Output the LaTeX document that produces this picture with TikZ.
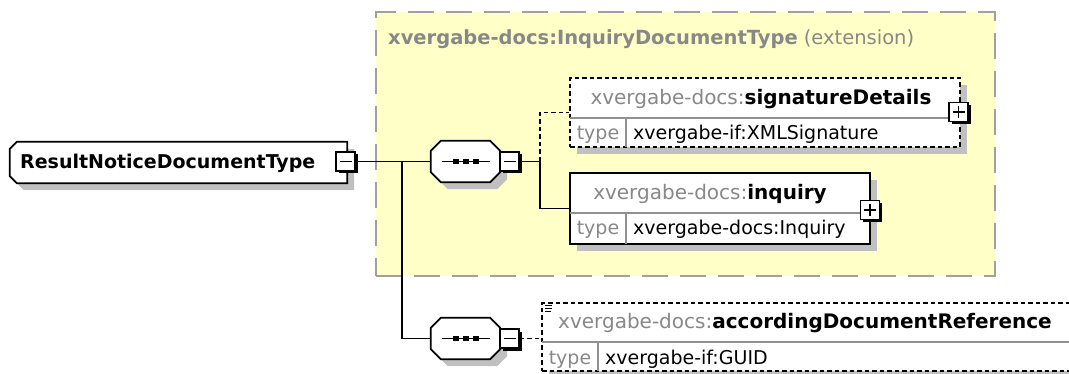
\documentclass[tikz,border=0pt]{standalone}
\usepackage{fontspec}
\setmainfont{DejaVu Sans}
\usetikzlibrary{shadows}

\definecolor{extfill}{HTML}{FFFFC8}
\definecolor{extline}{HTML}{A0A0A0}
\definecolor{shade}{HTML}{C0C0C0}
\definecolor{nsgray}{HTML}{888888}
\definecolor{rulegray}{HTML}{909090}

\newcommand\elname[2]{{\fontsize{20}{24}\selectfont\textcolor{nsgray}{#1}\textbf{#2}}}
% outline with chamfered corners round a node: #1 node, #2 left chamfer, #3 right chamfer
\newcommand\chamfershape[3]{%
  \draw[elembox] ([xshift=#2pt]#1.north west) -- ([xshift=-#3pt]#1.north east) -- ([yshift=-#3pt]#1.north east)
    -- ([yshift=#3pt]#1.south east) -- ([xshift=-#3pt]#1.south east) -- ([xshift=#2pt]#1.south west)
    -- ([yshift=#2pt]#1.south west) -- ([yshift=-#2pt]#1.north west) -- cycle;}
\newcommand\seqdots[1]{%
  \draw[line width=1.6pt] ([xshift=-24pt]#1.center) -- ([xshift=24pt]#1.center);
  \foreach \dx in {-10,0,10}
    \fill[black] ([xshift=\dx pt]#1.center) +(-3pt,-2.5pt) rectangle +(3pt,2.5pt);}

\tikzset{
  conn/.style={line width=1.8pt},
  optional/.style={dash pattern=on 4.5pt off 3pt},
  boxshadow/.style={drop shadow={shadow xshift=7pt, shadow yshift=-7pt, fill=shade, opacity=1}},
  elembox/.style={draw, fill=white, line width=1.8pt, boxshadow},
  rootbox/.style={minimum width=337pt, minimum height=41pt},
  seqbox/.style={minimum width=69pt, minimum height=41pt},
  pmbox/.style={draw, fill=white, line width=1.3pt, minimum width=19pt, minimum height=19pt,
    drop shadow={shadow xshift=2.5pt, shadow yshift=-2.5pt, fill=black, opacity=1}},
  minusbox/.style={pmbox, path picture={
      \draw[line width=1.4pt] ([xshift=-6pt]path picture bounding box.center) -- ([xshift=6pt]path picture bounding box.center);}},
  plusbox/.style={pmbox, path picture={
      \draw[line width=1.4pt] ([xshift=-6pt]path picture bounding box.center) -- ([xshift=6pt]path picture bounding box.center)
        ([yshift=-6pt]path picture bounding box.center) -- ([yshift=6pt]path picture bounding box.center);}},
  divline/.style={draw=rulegray, line width=1.2pt},
  typelabel/.style={text=nsgray, anchor=base},
  typevalue/.style={anchor=base west},
  extbox/.style={fill=extfill, draw=extline, line width=2.5pt, dash pattern=on 26pt off 12pt}
}

\begin{document}
\begin{tikzpicture}[x=1pt, y=-1pt, every node/.style={inner sep=0pt, font=\fontsize{19}{23}\selectfont}]
  \useasboundingbox (0,0) rectangle (1069,374);
  \clip (0,0) rectangle (1069,374);

  % extension area
  \node[extbox, minimum width=619pt, minimum height=264pt] (ext) at (685.5,144) {};
  \node[anchor=base west, text=nsgray] (exttitle) at (388,45)
    {\fontsize{19.5}{23}\selectfont\textbf{xvergabe-docs:InquiryDocumentType} (extension)};

  % root type
  \node[rootbox] (root) at (178.5,162.5) {};
  \chamfershape{root}{7}{0}
  \node[anchor=base west] (rootname) at (20,169) {\textbf{ResultNoticeDocumentType}};
  \node[minusbox] (rootm) at (345.5,161.5) {};

  % sequences
  \node[seqbox] (seqA) at (465.5,161.5) {};
  \chamfershape{seqA}{10}{10}
  \seqdots{seqA}
  \node[minusbox] (seqAm) at (509.5,161.5) {};
  \node[seqbox] (seqB) at (465.5,338.5) {};
  \chamfershape{seqB}{10}{10}
  \seqdots{seqB}
  \node[minusbox] (seqBm) at (509.5,338.5) {};

  % signatureDetails
  \node[elembox, optional, minimum width=390pt, minimum height=69pt] (sig) at (765,112.5) {};
  \draw[divline] (570,118) -- (960,118) (626,118) -- (626,147);
  \node[anchor=base] (signame) at (761,105) {\elname{xvergabe-docs:}{signatureDetails}};
  \node[typelabel] (sigtype) at (598,140) {type};
  \node[typevalue] (sigval) at (633,140) {xvergabe-if:XMLSignature};
  \node[plusbox] (sigp) at (958.5,112) {};

  % inquiry
  \node[elembox, minimum width=300pt, minimum height=71pt] (inq) at (720,208.5) {};
  \draw[divline] (570,213) -- (870,213) (626,213) -- (626,244);
  \node[anchor=base] (inqname) at (710,200) {\elname{xvergabe-docs:}{inquiry}};
  \node[typelabel] (inqtype) at (598,235) {type};
  \node[typevalue] (inqval) at (633,235) {xvergabe-docs:Inquiry};
  \node[plusbox] (inqp) at (870,210) {};

  % accordingDocumentReference
  \node[elembox, optional, minimum width=560pt, minimum height=68pt] (acc) at (822,337) {};
  \draw[divline] (542,342) -- (1102,342) (598,342) -- (598,371);
  \draw[line width=1pt] (545,306) -- (552,306) (545,309) -- (552,309) (545,312) -- (551,312);
  \node[anchor=base west] (accname) at (558,328) {\elname{xvergabe-docs:}{accordingDocumentReference}};
  \node[typelabel] (acctype) at (570,364) {type};
  \node[typevalue] (accval) at (605,364) {xvergabe-if:GUID};

  % connectors
  \coordinate (forkR) at (402,161.5);
  \coordinate (forkA) at (540,161.5);
  \draw[conn] (rootm.east) -- (seqA.west);
  \draw[conn] (forkR) |- (seqB.west);
  \draw[conn] (seqAm.east) -- (forkA);
  \draw[conn, optional] (forkA) |- (sig.west);
  \draw[conn] (forkA) |- (inq.west);
  \draw[conn, optional] (seqBm.east) -- (seqBm.east -| acc.west);
\end{tikzpicture}
\end{document}
